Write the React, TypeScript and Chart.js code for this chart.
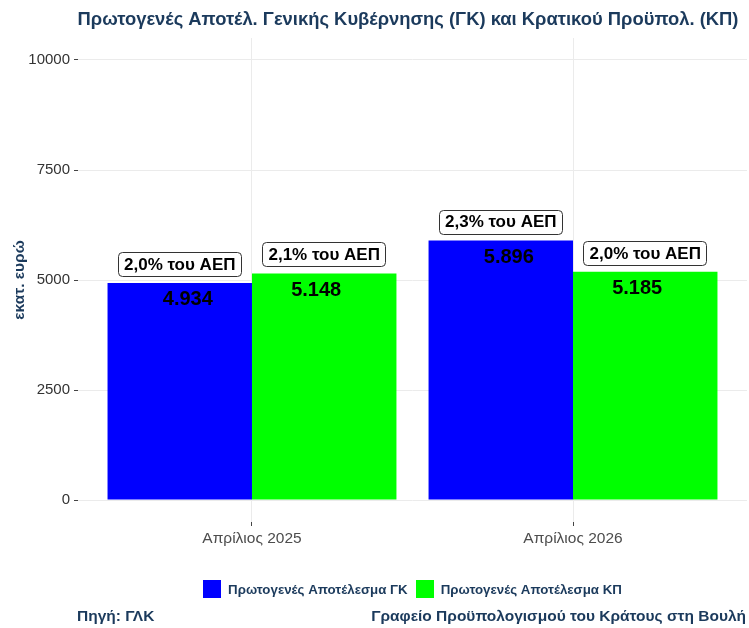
import React, { useEffect, useRef } from "react";
import { Chart, registerables } from "chart.js";

Chart.register(...registerables);

const categories = ["Απρίλιος 2025", "Απρίλιος 2026"];
const gkValues = [4934, 5896];
const kpValues = [5148, 5185];
const gkPctLabels = ["2,0% του ΑΕΠ", "2,3% του ΑΕΠ"];
const kpPctLabels = ["2,1% του ΑΕΠ", "2,0% του ΑΕΠ"];
const seriesNames = ["Πρωτογενές Αποτέλεσμα ΓΚ", "Πρωτογενές Αποτέλεσμα ΚΠ"];
const seriesColors = ["#0000ff", "#00ff00"];
const yTicks = [0, 2500, 5000, 7500, 10000];
const titleText = "Πρωτογενές Αποτέλ. Γενικής Κυβέρνησης (ΓΚ) και Κρατικού Προϋπολ. (ΚΠ)";
const yTitleText = "εκατ. ευρώ";
const sourceText = "Πηγή: ΓΛΚ";
const creditText = "Γραφείο Προϋπολογισμού του Κράτους στη Βουλή";

const FONT = "'Liberation Sans', Arial, sans-serif";
const NAVY = "#1b3a5c";

const fmt = (n: number) => String(n).replace(/\B(?=(\d{3})+(?!\d))/g, ".");

const pctLabels = [gkPctLabels, kpPctLabels];

const extrasPlugin = {
  id: "extras",
  afterDraw(chart: any) {
    const ctx = chart.ctx as CanvasRenderingContext2D;
    const ca = chart.chartArea;
    const xs = chart.scales.x;
    const midX = (ca.left + ca.right) / 2;
    ctx.save();
    // title
    ctx.fillStyle = NAVY;
    ctx.font = `bold 18.4px ${FONT}`;
    ctx.textAlign = "center";
    ctx.textBaseline = "middle";
    ctx.fillText(titleText, midX - 4.5, 20);

    // y title
    ctx.save();
    ctx.translate(20, (ca.top + ca.bottom) / 2);
    ctx.rotate(-Math.PI / 2);
    ctx.font = `bold 15.5px ${FONT}`;
    ctx.fillText(yTitleText, 0, 0);
    ctx.restore();

    // data labels
    chart.data.datasets.forEach((ds: any, i: number) => {
      const meta = chart.getDatasetMeta(i);
      meta.data.forEach((el: any, j: number) => {
        const v = ds.data[j].y;
        ctx.fillStyle = "#000";
        ctx.font = `bold 20px ${FONT}`;
        ctx.textAlign = "center";
        ctx.textBaseline = "middle";
        const vx = xs.getPixelForValue(ds.data[j].x + (i - 0.5) * 0.4);
        ctx.fillText(fmt(v), vx, el.y + 17);

        const t = pctLabels[i][j];
        ctx.font = `bold 17px ${FONT}`;
        const w = ctx.measureText(t).width + 12;
        const h = 24;
        const cy = el.y - 19;
        ctx.beginPath();
        (ctx as any).roundRect(Math.round(el.x - w / 2) + 0.5, Math.round(cy - h / 2) + 0.5, Math.round(w), h, 4);
        ctx.fillStyle = "#fff";
        ctx.fill();
        ctx.strokeStyle = "#333";
        ctx.lineWidth = 1;
        ctx.stroke();
        ctx.fillStyle = "#000";
        ctx.fillText(t, el.x, cy + 1);
      });
    });

    // legend
    ctx.font = `bold 13.3px ${FONT}`;
    const box = 18;
    const gap = 7;
    const itemGap = 8;
    const widths = seriesNames.map((n) => ctx.measureText(n).width);
    const total = widths.reduce((a, b) => a + b, 0) + seriesNames.length * (box + gap) + itemGap * (seriesNames.length - 1);
    let x = midX - total / 2;
    const ly = 589;
    seriesNames.forEach((n, i) => {
      ctx.fillStyle = seriesColors[i];
      ctx.fillRect(Math.round(x), ly - box / 2, box, box);
      x += box + gap;
      ctx.fillStyle = NAVY;
      ctx.textAlign = "left";
      ctx.textBaseline = "middle";
      ctx.fillText(n, x, ly + 1);
      x += widths[i] + itemGap;
    });

    // footer
    ctx.font = `bold 15.5px ${FONT}`;
    ctx.fillStyle = NAVY;
    ctx.textAlign = "left";
    ctx.fillText(sourceText, ca.left - 1, 617);
    ctx.textAlign = "right";
    ctx.fillText(creditText, 746, 617);
    ctx.restore();
  },
};

export default function App() {
  const ref = useRef<HTMLCanvasElement | null>(null);
  useEffect(() => {
    if (!ref.current) return;
    const chart = new Chart(ref.current, {
      type: "bar",
      data: {
        datasets: [
          {
            label: seriesNames[0],
            data: categories.map((_, i) => ({ x: i, y: gkValues[i] })),
            backgroundColor: seriesColors[0],
            categoryPercentage: 0.9,
            barPercentage: 1,
            borderWidth: 0,
          },
          {
            label: seriesNames[1],
            data: categories.map((_, i) => ({ x: i, y: kpValues[i] })),
            backgroundColor: seriesColors[1],
            categoryPercentage: 0.9,
            barPercentage: 1,
            borderWidth: 0,
          },
        ],
      } as any,
      options: {
        animation: false,
        responsive: false,
        devicePixelRatio: 1,
        layout: { padding: { top: 38, left: 0, right: 2, bottom: 76 } },
        plugins: {
          legend: { display: false },
          title: { display: false },
          tooltip: { enabled: false },
        },
        scales: {
          x: {
            type: "linear",
            min: -0.542,
            max: 1.542,
            offset: false,
            afterBuildTicks: (s: any) => {
              s.ticks = categories.map((_, i) => ({ value: i }));
            },
            afterFit: (s: any) => {
              s.height = 30;
            },
            ticks: {
              callback: (v: any) => categories[v] ?? "",
              font: { size: 15.5, family: FONT },
              color: "#4d4d4d",
              padding: 3,
              maxRotation: 0,
              autoSkip: false,
            },
            grid: { color: "#ebebeb", tickColor: "#444", tickLength: 4, offset: false },
            border: { display: false },
          },
          y: {
            type: "linear",
            min: -500,
            max: 10500,
            afterBuildTicks: (s: any) => {
              s.ticks = yTicks.map((v) => ({ value: v }));
            },
            afterFit: (s: any) => {
              s.width = 78;
            },
            ticks: {
              callback: (v: any) => String(v),
              font: { size: 15, family: FONT },
              color: "#333",
              padding: 4,
            },
            grid: { color: "#ebebeb", tickColor: "#444", tickLength: 4 },
            border: { display: false },
          },
        },
      } as any,
      plugins: [extrasPlugin],
    });
    return () => chart.destroy();
  }, []);
  return (
    <div style={{ position: "absolute", left: 0, top: 0, width: 749, height: 628, background: "#fff" }}>
      <canvas ref={ref} width={749} height={628} style={{ width: 749, height: 628, display: "block" }} />
    </div>
  );
}
